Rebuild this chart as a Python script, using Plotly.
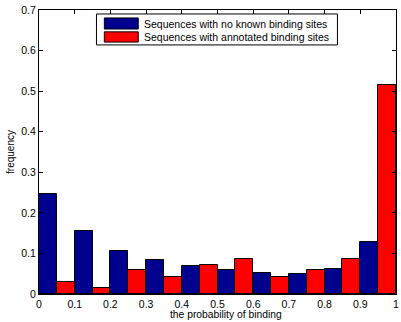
import plotly.graph_objects as go

bin_centers = [0.05, 0.15, 0.25, 0.35, 0.45, 0.55, 0.65, 0.75, 0.85, 0.95]
no_known = [0.247, 0.156, 0.106, 0.084, 0.070, 0.058, 0.051, 0.049, 0.061, 0.127]
annotated = [0.029, 0.014, 0.058, 0.043, 0.072, 0.086, 0.043, 0.058, 0.086, 0.516]
names = ["Sequences with no known binding sites", "Sequences with annotated binding sites"]
colors = ["#00008F", "#FF0000"]
x_ticks = [0, 0.1, 0.2, 0.3, 0.4, 0.5, 0.6, 0.7, 0.8, 0.9, 1]
x_tick_text = ["0", "0.1", "0.2", "0.3", "0.4", "0.5", "0.6", "0.7", "0.8", "0.9", "1"]
y_ticks = [0, 0.1, 0.2, 0.3, 0.4, 0.5, 0.6, 0.7]
y_tick_text = ["0", "0.1", "0.2", "0.3", "0.4", "0.5", "0.6", "0.7"]

fig = go.Figure()
for vals, nm, col in zip([no_known, annotated], names, colors):
    fig.add_trace(go.Bar(x=bin_centers, y=vals, name=nm, showlegend=False,
                         marker=dict(color=col, line=dict(color="black", width=1))))

font = "Liberation Sans, Arial, sans-serif"

# manual MATLAB-style legend (paper coordinates)
shapes = [dict(type="rect", xref="paper", yref="paper", x0=0.161, x1=0.836,
               y0=0.877, y1=0.986, line=dict(color="black", width=1),
               fillcolor="white", layer="above")]
annotations = []
rows = [(0.972, 0.933, 0.952), (0.923, 0.887, 0.905)]
for (ytop, ybot, ymid), nm, col in zip(rows, names, colors):
    shapes.append(dict(type="rect", xref="paper", yref="paper", x0=0.183, x1=0.278,
                       y0=ybot, y1=ytop, line=dict(color="black", width=1),
                       fillcolor=col, layer="above"))
    annotations.append(dict(xref="paper", yref="paper", x=0.289, y=ymid, text=nm,
                            showarrow=False, xanchor="left", yanchor="middle",
                            font=dict(size=10.5, family=font, color="black")))

annotations.append(dict(xref="paper", yref="paper", x=0.525, y=-0.0945,
                        text="the probability of binding", showarrow=False,
                        xanchor="center", yanchor="bottom", borderpad=0,
                        font=dict(size=10.3, family=font, color="black")))

fig.update_layout(
    width=401, height=322,
    margin=dict(l=39, r=2, t=10, b=28),
    barmode="group", bargap=0, bargroupgap=0,
    plot_bgcolor="white", paper_bgcolor="white",
    font=dict(family=font, size=10.5, color="black"),
    showlegend=False,
    shapes=shapes, annotations=annotations,
    xaxis=dict(range=[0, 1], tickvals=x_ticks, ticktext=x_tick_text,
               ticks="inside", ticklen=4, tickcolor="black", showline=True,
               linecolor="black", linewidth=1, mirror="ticks", showgrid=False,
               zeroline=False, ticklabeloverflow="allow",
               tickfont=dict(size=10.5)),
    yaxis=dict(range=[0, 0.7], tickvals=y_ticks, ticktext=y_tick_text,
               ticks="inside", ticklen=4, tickcolor="black", showline=True,
               linecolor="black", linewidth=1, mirror="ticks", showgrid=False,
               zeroline=False, tickfont=dict(size=10.5),
               title=dict(text="frequency", standoff=4, font=dict(size=10))),
)
fig.write_html("out.html")
